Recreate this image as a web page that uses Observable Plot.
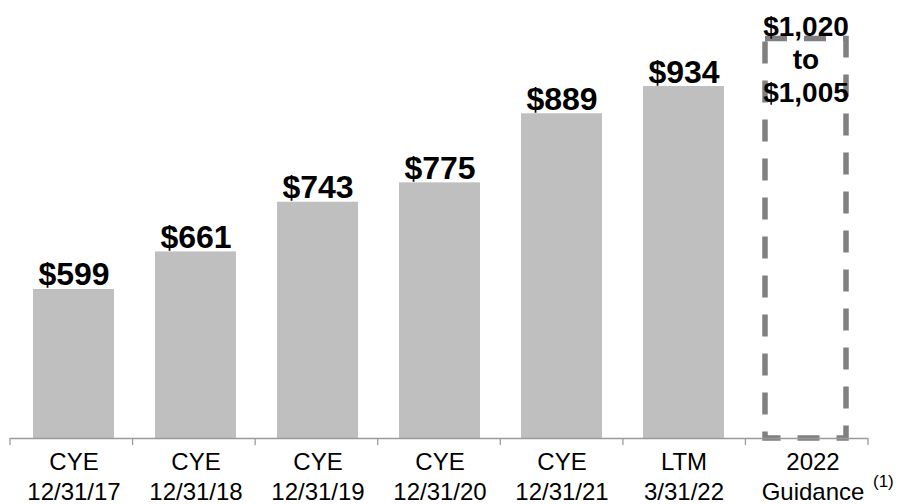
<!DOCTYPE html>
<html>
<head>
<meta charset="utf-8">
<script src="https://cdn.jsdelivr.net/npm/d3@7"></script>
<script src="https://cdn.jsdelivr.net/npm/@observablehq/plot@0.6"></script>
<style>
  html, body { margin: 0; padding: 0; background: #fff; }
  #chart svg { display: block; }
</style>
</head>
<body>
<div id="chart"></div>
<script>
const categories = ["CYE 12/31/17", "CYE 12/31/18", "CYE 12/31/19", "CYE 12/31/20", "CYE 12/31/21", "LTM 3/31/22", "2022 Guidance"];
const labelLine1 = ["CYE", "CYE", "CYE", "CYE", "CYE", "LTM", "2022"];
const labelLine2 = ["12/31/17", "12/31/18", "12/31/19", "12/31/20", "12/31/21", "3/31/22", "Guidance"];
const values = [599, 661, 743, 775, 889, 934];
const valueLabels = ["$599", "$661", "$743", "$775", "$889", "$934"];
const guidanceHigh = 1020;
const guidanceLow = 1005;
const guidanceLabel = "$1,020\nto\n$1,005";
const footnote = "(1)";
const yBase = 353;
const yTop = 1076;

const bars = values.map((v, i) => ({cat: categories[i], value: v, label: valueLabels[i]}));
const guidance = [{cat: categories[6], mid: (guidanceHigh + guidanceLow) / 2}];
const axisLabels = categories.map((c, i) => ({cat: c, text: labelLine1[i] + "\n" + labelLine2[i]}));

const font = "'Liberation Sans', Arial, Helvetica, sans-serif";

function boundaryTicks(index, scales, values, dimensions) {
  const {width, marginLeft, marginRight} = dimensions;
  const n = categories.length;
  const step = (width - marginLeft - marginRight) / n;
  const y0 = scales.y(yBase);
  const g = d3.create("svg:g").attr("stroke", "#9a9a9a").attr("stroke-width", 1.3);
  g.selectAll("line").data(d3.range(n + 1)).join("line")
    .attr("x1", i => marginLeft + i * step)
    .attr("x2", i => marginLeft + i * step)
    .attr("y1", y0)
    .attr("y2", y0 + 7);
  return g.node();
}

const chart = Plot.plot({
  width: 900,
  height: 504,
  marginLeft: 10,
  marginRight: 32,
  marginTop: 0,
  marginBottom: 66,
  style: {fontFamily: font, background: "#fff", overflow: "visible"},
  x: {domain: categories, paddingInner: 0.34, paddingOuter: 0.17, axis: null},
  y: {domain: [yBase, yTop], axis: null},
  marks: [
    Plot.barY(bars, {x: "cat", y1: yBase, y2: "value", fill: "#bfbfbf"}),
    Plot.barY(guidance, {x: "cat", y1: yBase, y2: "mid", fill: "none", stroke: "#808080", strokeWidth: 5.5, strokeDasharray: "22,17"}),
    Plot.ruleY([yBase], {stroke: "#9a9a9a", strokeWidth: 1.3}),
    boundaryTicks,
    Plot.text(bars, {x: "cat", y: "value", text: "label", dy: -4, lineAnchor: "bottom", fontSize: 32, fontWeight: "bold", fill: "#000"}),
    Plot.text(guidance, {x: "cat", frameAnchor: "top", text: () => guidanceLabel, dy: 12, lineAnchor: "top", lineHeight: 1.18, fontSize: 28, fontWeight: "bold", fill: "#000"}),
    Plot.text(axisLabels.slice(0, 6), {x: "cat", y: yBase, text: "text", dy: 10, lineAnchor: "top", lineHeight: 1.25, fontSize: 24, fill: "#000"}),
    Plot.text(axisLabels.slice(6), {x: "cat", y: yBase, text: "text", dy: 10, dx: 7, lineAnchor: "top", lineHeight: 1.25, fontSize: 24, fill: "#000"}),
    Plot.text(guidance, {x: "cat", y: yBase, text: () => footnote, dy: 48, dx: 67, textAnchor: "start", lineAnchor: "bottom", fontSize: 17, fill: "#000"})
  ]
});

document.getElementById("chart").appendChild(chart);
</script>
</body>
</html>
